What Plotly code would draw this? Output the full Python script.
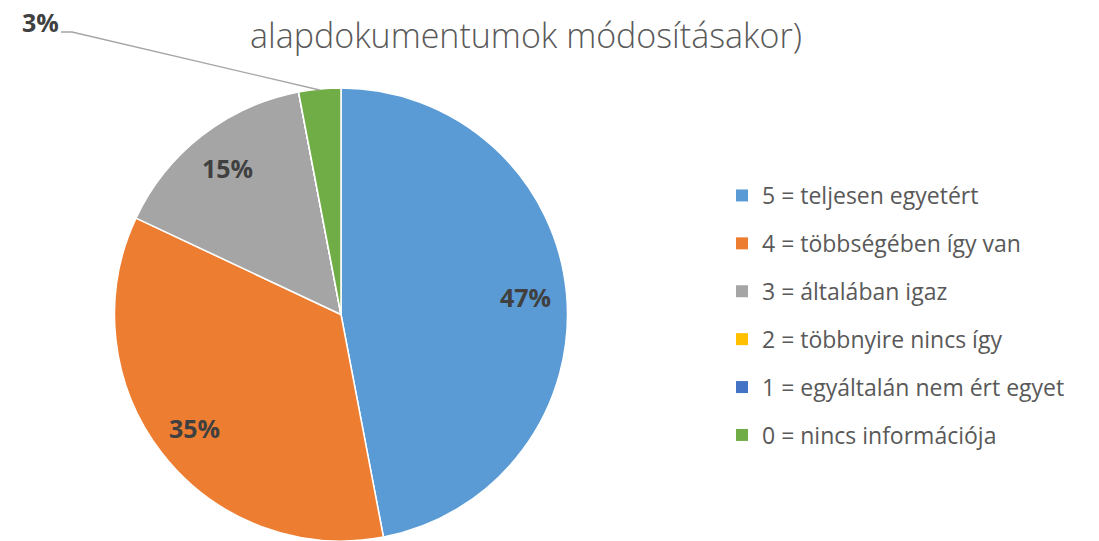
import math
import plotly.graph_objects as go

labels = ["5 = teljesen egyetért", "4 = többségében így van", "3 = általában igaz",
          "2 = többnyire nincs így", "1 = egyáltalán nem ért egyet", "0 = nincs információja"]
values = [47, 35, 15, 0, 0, 3]
colors = ["#5B9BD5", "#ED7D31", "#A5A5A5", "#FFC000", "#4472C4", "#70AD47"]
title_text = "alapdokumentumok módosításakor)"

FONT = "Open Sans"
W, H = 1099, 541
def px(x): return x / W
def py(y): return 1 - y / H

cx, cy, R = 341, 314.5, 226.5

fig = go.Figure()
fig.add_trace(go.Pie(
    labels=labels, values=values, sort=False, direction="clockwise", rotation=0,
    marker=dict(colors=colors, line=dict(color="white", width=1.5)),
    textinfo="none", showlegend=False, hoverinfo="label+percent",
    domain=dict(x=[px(cx - R), px(cx + R)], y=[0, py(cy - R)]),
))

# legend via dummy traces
for lab, col in zip(labels, colors):
    fig.add_trace(go.Scatter(x=[None], y=[None], mode="markers", name=lab,
                             legendgroup=lab,
                             marker=dict(symbol="square", size=12, color=col)))

total = sum(values)
cum = 0
annotations = []
lab_font = dict(size=25, color="#404040", family=FONT, weight=700)
for lab, v in zip(labels, values):
    if v > 0:
        mid = (cum + v / 2) / total * 2 * math.pi
        txt = f"{round(v / total * 100)}%"
        if v / total > 0.05:
            x = cx + 0.82 * R * math.sin(mid)
            y = cy - 0.82 * R * math.cos(mid)
            annotations.append(dict(x=px(x), y=py(y), xref="paper", yref="paper",
                                    xanchor="center", yanchor="middle",
                                    text=txt, showarrow=False, font=lab_font))
        else:
            ex = cx + R * math.sin(mid)
            ey = cy - R * math.cos(mid)
            lx, ly = 40, 22
            annotations.append(dict(x=px(lx), y=py(ly), xref="paper", yref="paper",
                                    xanchor="center", yanchor="middle",
                                    text=txt, showarrow=False, font=lab_font))
            fig.add_shape(type="path", xref="paper", yref="paper",
                          path=f"M {px(61)} {py(32)} L {px(72)} {py(32)} L {px(ex)} {py(ey+1)}",
                          line=dict(color="#A5A5A5", width=1.3))
    cum += v

annotations.append(dict(x=px(526), y=py(35), xref="paper", yref="paper",
                        xanchor="center", yanchor="middle",
                        text=title_text, showarrow=False,
                        font=dict(size=34, color="#595959", family=FONT, weight=300)))

fig.update_layout(
    width=W, height=H, margin=dict(l=0, r=0, t=0, b=0),
    paper_bgcolor="white", plot_bgcolor="white",
    xaxis=dict(visible=False), yaxis=dict(visible=False),
    annotations=annotations,
    legend=dict(x=px(722), y=py(174), xanchor="left", yanchor="top",
                font=dict(size=23, color="#595959", family=FONT),
                tracegroupgap=15, itemsizing="constant", bgcolor="rgba(0,0,0,0)"),
)
fig.write_html("out.html", post_script="document.body.style.margin='0px';",
               config={"displayModeBar": False})
